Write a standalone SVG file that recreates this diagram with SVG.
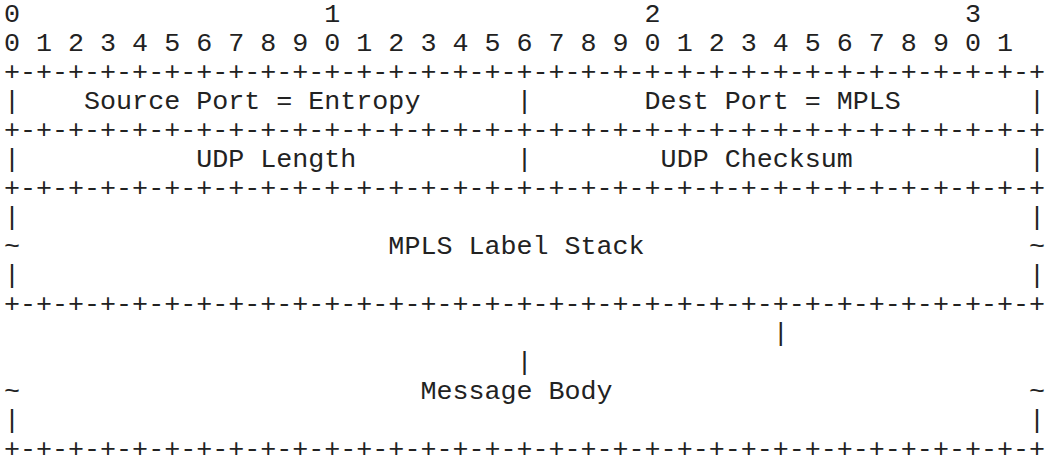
<svg xmlns="http://www.w3.org/2000/svg" width="1045" height="465" viewBox="0 0 1045 465">
<style>
text{font-family:"Liberation Mono","DejaVu Sans Mono",monospace;font-size:26.7px;fill:#222;white-space:pre}
</style>
<rect width="1045" height="465" fill="#fff"/>
<g id="bit-ruler">
<text x="4" y="22" xml:space="preserve">0                   1                   2                   3</text>
<text x="4" y="51" xml:space="preserve">0 1 2 3 4 5 6 7 8 9 0 1 2 3 4 5 6 7 8 9 0 1 2 3 4 5 6 7 8 9 0 1</text>
</g>
<g id="connectors">
<text x="4" y="80">+-+-+-+-+-+-+-+-+-+-+-+-+-+-+-+-+-+-+-+-+-+-+-+-+-+-+-+-+-+-+-+-+</text>
<text x="4" y="138">+-+-+-+-+-+-+-+-+-+-+-+-+-+-+-+-+-+-+-+-+-+-+-+-+-+-+-+-+-+-+-+-+</text>
<text x="4" y="196">+-+-+-+-+-+-+-+-+-+-+-+-+-+-+-+-+-+-+-+-+-+-+-+-+-+-+-+-+-+-+-+-+</text>
<text x="4" y="312">+-+-+-+-+-+-+-+-+-+-+-+-+-+-+-+-+-+-+-+-+-+-+-+-+-+-+-+-+-+-+-+-+</text>
<text x="4" y="457">+-+-+-+-+-+-+-+-+-+-+-+-+-+-+-+-+-+-+-+-+-+-+-+-+-+-+-+-+-+-+-+-+</text>
</g>
<g id="row-ports">
<text x="4" y="109" xml:space="preserve">|    Source Port = Entropy      |       Dest Port = MPLS        |</text>
</g>
<g id="row-udp">
<text x="4" y="167" xml:space="preserve">|           UDP Length          |        UDP Checksum           |</text>
</g>
<g id="mpls-label-stack">
<text x="4" y="225" xml:space="preserve">|                                                               |</text>
<text x="4" y="254" xml:space="preserve">~                       MPLS Label Stack                        ~</text>
<text x="4" y="283" xml:space="preserve">|                                                               |</text>
</g>
<g id="message-body">
<text x="4" y="341" xml:space="preserve">                                                |</text>
<text x="4" y="370" xml:space="preserve">                                |</text>
<text x="4" y="399" xml:space="preserve">~                         Message Body                          ~</text>
<text x="4" y="428" xml:space="preserve">|                                                               |</text>
</g>
</svg>
